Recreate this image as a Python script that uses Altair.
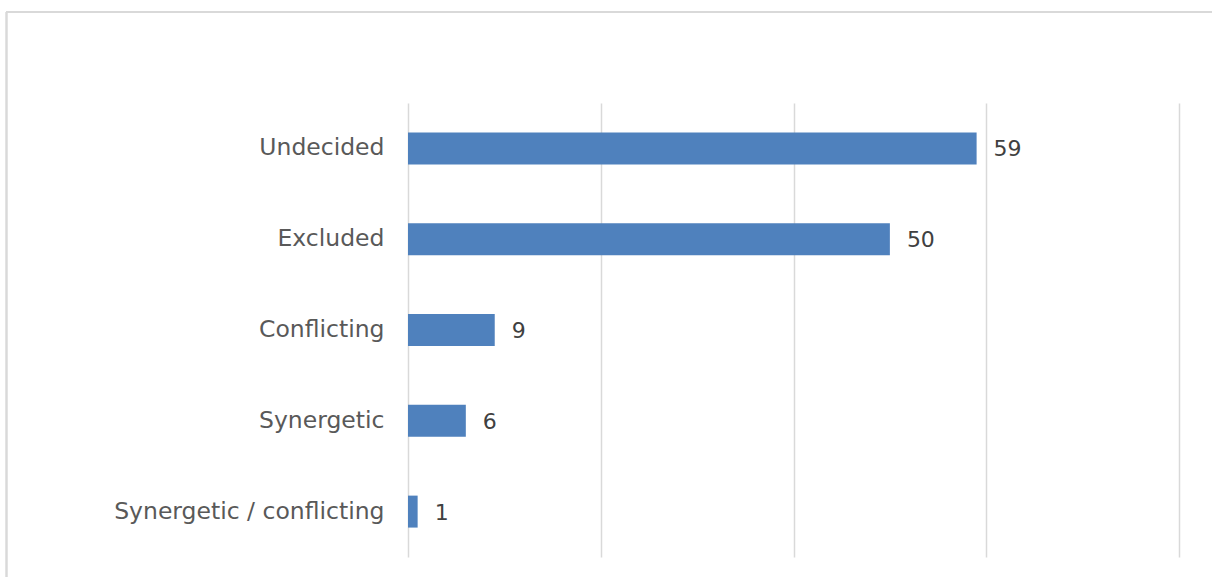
import altair as alt
import pandas as pd

categories = ["Undecided", "Excluded", "Conflicting", "Synergetic", "Synergetic / conflicting"]
values = [59, 50, 9, 6, 1]
x_ticks = [0, 20, 40, 60, 80]

df = pd.DataFrame({"category": categories, "value": values})

FONT = "DejaVu Sans"

y_enc = alt.Y(
    "category:N",
    sort=categories,
    title=None,
    scale=alt.Scale(paddingInner=0.648, paddingOuter=0.324),
    axis=alt.Axis(
        ticks=False, domain=False, grid=False,
        labelFont=FONT, labelFontSize=23.5, labelColor="#595959",
        labelPadding=24, labelLimit=400,
    ),
)
x_enc = alt.X(
    "value:Q",
    title=None,
    scale=alt.Scale(domain=[0, 80], nice=False),
    axis=alt.Axis(
        values=x_ticks, labels=False, ticks=False, domain=False,
        grid=True, gridColor="#d9d9d9", gridWidth=1.5,
    ),
)

bars = alt.Chart(df).mark_bar(color="#4f81bd").encode(x=x_enc, y=y_enc)

text = alt.Chart(df).mark_text(
    align="left", baseline="middle", dx=17, dy=1, font=FONT, fontSize=22, color="#404040"
).encode(x="value:Q", y=alt.Y("category:N", sort=categories), text="value:Q")

border_top = alt.Chart(df).mark_rule(color="#d9d9d9", strokeWidth=1.5).encode(
    x=alt.value(-402), x2=alt.value(820), y=alt.value(-91)
)
border_left = alt.Chart(df).mark_rule(color="#d9d9d9", strokeWidth=1.5).encode(
    x=alt.value(-401.5), y=alt.value(-91), y2=alt.value(500)
)

chart = alt.layer(bars, text, border_top, border_left).properties(
    width=771,
    height=454,
    background="white",
    autosize=alt.AutoSizeParams(type="none"),
    padding={"left": 408, "top": 103, "right": 33, "bottom": 20},
).configure_view(strokeWidth=0)

chart.save("out.html", embed_options={"renderer": "svg", "actions": False})
